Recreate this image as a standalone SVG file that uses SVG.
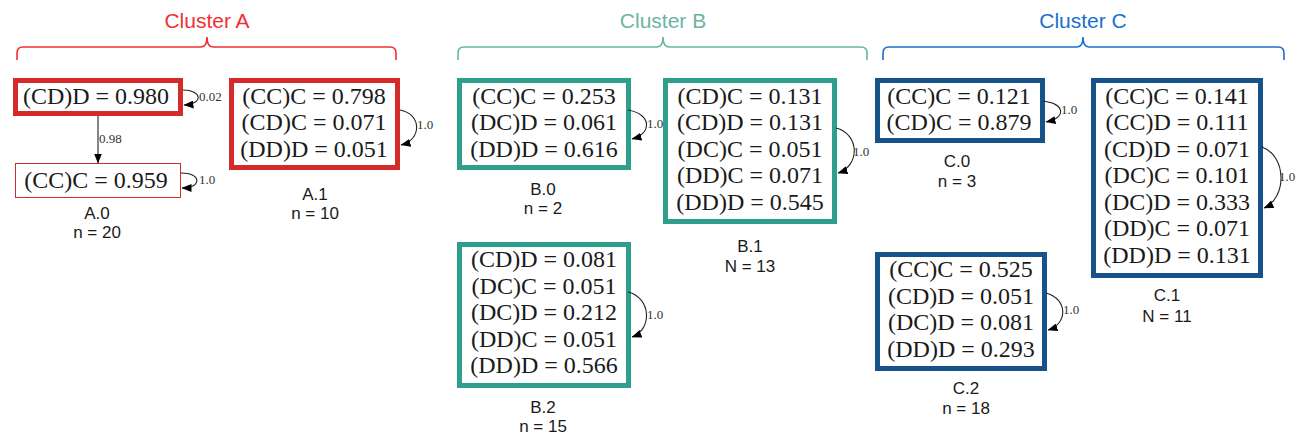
<svg xmlns="http://www.w3.org/2000/svg" width="1309" height="439" viewBox="0 0 1309 439">
<style>
.t{font-family:"Liberation Serif","Times New Roman",serif;font-size:24px;fill:#1a1a1a;text-anchor:middle}
.lab{font-family:"Liberation Sans",Arial,sans-serif;font-size:17px;fill:#1a1a1a;text-anchor:middle}
.el{font-family:"Liberation Serif","Times New Roman",serif;font-size:13px;fill:#333}
.title{font-family:"Liberation Sans",Arial,sans-serif;font-size:21px;text-anchor:middle}
.brace{fill:none;stroke-width:1.6}
.box{fill:#fff;stroke-width:5}
.a{stroke:#d42a2a}
.b{stroke:#2f9e8c}
.c{stroke:#17528b}
.edge{fill:none;stroke:#222;stroke-width:1.1}
</style>
<defs>
<marker id="ah" markerUnits="userSpaceOnUse" markerWidth="10" markerHeight="8" refX="9.5" refY="4" orient="auto">
<path d="M0,0 L10,4 L0,8 z" fill="#000"/>
</marker>
</defs>

<g id="clusterA">
<text class="title" x="207" y="28" fill="#f03030">Cluster A</text>
<path class="brace" stroke="#f03030" d="M17,60 V53 Q17,47 23,47 H201 Q207,47 207,37 Q207,47 213,47 H390 Q396,47 396,53 V60"/>
</g>
<g id="clusterB">
<text class="title" x="663" y="28" fill="#6ab4a2">Cluster B</text>
<path class="brace" stroke="#6ab4a2" d="M458,60 V53 Q458,47 464,47 H657 Q663,47 663,37 Q663,47 669,47 H861 Q867,47 867,53 V60"/>
</g>
<g id="clusterC">
<text class="title" x="1083" y="28" fill="#1a6fd0">Cluster C</text>
<path class="brace" stroke="#1a6fd0" d="M883,60 V53 Q883,47 889,47 H1077 Q1083,47 1083,37 Q1083,47 1089,47 H1278 Q1284,47 1284,53 V60"/>
</g>

<g id="A0">
<rect class="box a" x="15.5" y="80.5" width="165" height="33"/>
<text class="t" x="96" y="104">(CD)D = 0.980</text>
<rect x="15.5" y="163.5" width="165" height="34" fill="#fff" stroke="#d42a2a" stroke-width="1"/>
<text class="t" x="96" y="188">(CC)C = 0.959</text>
<text class="lab" x="97" y="219">A.0</text>
<text class="lab" x="97" y="238">n = 20</text>
</g>

<g id="A1">
<rect class="box a" x="231.5" y="80.5" width="166" height="87"/>
<text class="t" x="314" y="104">(CC)C = 0.798</text>
<text class="t" x="314" y="130">(CD)C = 0.071</text>
<text class="t" x="314" y="157">(DD)D = 0.051</text>
<text class="lab" x="315" y="200">A.1</text>
<text class="lab" x="315" y="219">n = 10</text>
</g>

<g id="B0">
<rect class="box b" x="459.5" y="80.5" width="169" height="87"/>
<text class="t" x="544" y="104">(CC)C = 0.253</text>
<text class="t" x="544" y="130">(DC)D = 0.061</text>
<text class="t" x="544" y="157">(DD)D = 0.616</text>
<text class="lab" x="543" y="195">B.0</text>
<text class="lab" x="543" y="214">n = 2</text>
</g>

<g id="B1">
<rect class="box b" x="665.5" y="80.5" width="169" height="141"/>
<text class="t" x="750" y="104">(CD)C = 0.131</text>
<text class="t" x="750" y="130">(CD)D = 0.131</text>
<text class="t" x="750" y="157">(DC)C = 0.051</text>
<text class="t" x="750" y="183">(DD)C = 0.071</text>
<text class="t" x="750" y="210">(DD)D = 0.545</text>
<text class="lab" x="750" y="252">B.1</text>
<text class="lab" x="750" y="272">N = 13</text>
</g>

<g id="B2">
<rect class="box b" x="459.5" y="244.5" width="169" height="141"/>
<text class="t" x="544" y="267">(CD)D = 0.081</text>
<text class="t" x="544" y="294">(DC)C = 0.051</text>
<text class="t" x="544" y="320">(DC)D = 0.212</text>
<text class="t" x="544" y="347">(DD)C = 0.051</text>
<text class="t" x="544" y="373">(DD)D = 0.566</text>
<text class="lab" x="543" y="413">B.2</text>
<text class="lab" x="543" y="432">n = 15</text>
</g>

<g id="C0">
<rect class="box c" x="877.5" y="80.5" width="165" height="60"/>
<text class="t" x="959" y="104">(CC)C = 0.121</text>
<text class="t" x="959" y="130">(CD)C = 0.879</text>
<text class="lab" x="957" y="167">C.0</text>
<text class="lab" x="957" y="187">n = 3</text>
</g>

<g id="C1">
<rect class="box c" x="1093.5" y="80.5" width="167" height="195"/>
<text class="t" x="1177" y="104">(CC)C = 0.141</text>
<text class="t" x="1177" y="130">(CC)D = 0.111</text>
<text class="t" x="1177" y="157">(CD)D = 0.071</text>
<text class="t" x="1177" y="183">(DC)C = 0.101</text>
<text class="t" x="1177" y="210">(DC)D = 0.333</text>
<text class="t" x="1177" y="236">(DD)C = 0.071</text>
<text class="t" x="1177" y="263">(DD)D = 0.131</text>
<text class="lab" x="1167" y="301">C.1</text>
<text class="lab" x="1167" y="322">N = 11</text>
</g>

<g id="C2">
<rect class="box c" x="877.5" y="254.5" width="167" height="114"/>
<text class="t" x="961" y="277">(CC)C = 0.525</text>
<text class="t" x="961" y="304">(CD)D = 0.051</text>
<text class="t" x="961" y="330">(DC)D = 0.081</text>
<text class="t" x="961" y="357">(DD)D = 0.293</text>
<text class="lab" x="966" y="394">C.2</text>
<text class="lab" x="966" y="414">n = 18</text>
</g>

<g id="connectors">
<path class="edge" d="M98,116 V163" marker-end="url(#ah)"/>
<text class="el" x="99" y="143">0.98</text>
<path class="edge" d="M183,90 C202,90 204,104 184,105" marker-end="url(#ah)"/>
<text class="el" x="199" y="101">0.02</text>
<path class="edge" d="M181,173 C202,173 202,188 182,188" marker-end="url(#ah)"/>
<text class="el" x="199" y="184">1.0</text>
<path class="edge" d="M400,110 C422,114 422,140 401,145" marker-end="url(#ah)"/>
<text class="el" x="417" y="129">1.0</text>
<path class="edge" d="M628,110 C652,114 652,134 632,139" marker-end="url(#ah)"/>
<text class="el" x="647" y="128">1.0</text>
<path class="edge" d="M836,128 C860,134 860,166 838,173" marker-end="url(#ah)"/>
<text class="el" x="853" y="156">1.0</text>
<path class="edge" d="M628,292 C652,298 652,330 632,337" marker-end="url(#ah)"/>
<text class="el" x="647" y="319">1.0</text>
<path class="edge" d="M1043,101 C1066,104 1066,118 1046,122" marker-end="url(#ah)"/>
<text class="el" x="1061" y="114">1.0</text>
<path class="edge" d="M1262,147 C1287,156 1287,198 1264,208" marker-end="url(#ah)"/>
<text class="el" x="1279" y="181">1.0</text>
<path class="edge" d="M1046,293 C1068,299 1068,324 1048,330" marker-end="url(#ah)"/>
<text class="el" x="1063" y="314">1.0</text>
</g>
</svg>
